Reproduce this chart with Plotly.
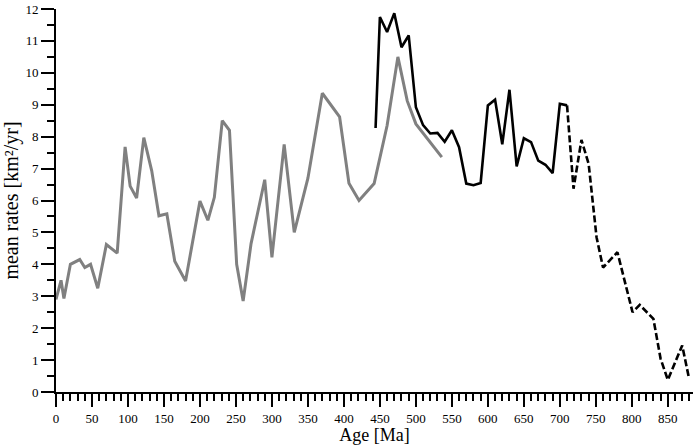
import plotly.graph_objects as go

# Gray series
gray_age = [0, 7, 11, 20, 33, 40, 48, 58, 70, 85, 96, 103, 112, 122, 133, 143, 154, 165, 180,
            200, 211, 220, 231, 241, 251, 260, 271, 290, 300, 317, 331, 350, 370, 394, 407,
            421, 442, 460, 475, 488, 500, 536]
gray_val = [2.9, 3.5, 2.93, 4.0, 4.15, 3.9, 4.0, 3.25, 4.62, 4.35, 7.68, 6.45, 6.08, 7.97, 6.93,
            5.52, 5.58, 4.1, 3.48, 5.98, 5.38, 6.1, 8.5, 8.2, 4.0, 2.85, 4.65, 6.65, 4.22, 7.76,
            5.0, 6.7, 9.36, 8.62, 6.54, 6.0, 6.53, 8.35, 10.5, 9.12, 8.4, 7.36]

# Black solid series
black_age = [444, 450, 460, 470, 480, 490, 500, 505, 510, 520, 530, 540, 550, 560, 570, 580,
             590, 600, 610, 620, 630, 640, 650, 660, 670, 680, 690, 700, 710]
black_val = [8.27, 11.75, 11.28, 11.87, 10.8, 11.17, 8.92, 8.62, 8.36, 8.1, 8.12, 7.84, 8.2,
             7.67, 6.53, 6.48, 6.55, 8.98, 9.16, 7.76, 9.47, 7.07, 7.95, 7.83, 7.25, 7.12,
             6.86, 9.03, 8.98]

# Black dashed series
dash_age = [710, 719, 730, 740, 751, 760, 780, 801, 811, 830, 840, 850, 870, 879]
dash_val = [8.98, 6.37, 7.9, 7.15, 4.85, 3.9, 4.38, 2.5, 2.73, 2.29, 1.04, 0.38, 1.46, 0.48]

fig = go.Figure()
fig.add_trace(go.Scatter(x=gray_age, y=gray_val, mode="lines",
                         line=dict(color="#808080", width=3), showlegend=False))
fig.add_trace(go.Scatter(x=black_age, y=black_val, mode="lines",
                         line=dict(color="#000000", width=2.6), showlegend=False))
fig.add_trace(go.Scatter(x=dash_age, y=dash_val, mode="lines",
                         line=dict(color="#000000", width=2.6, dash="7px,3px"), showlegend=False))

font = "Liberation Serif, Times New Roman, serif"
fig.update_layout(
    width=699, height=445,
    margin=dict(l=56, r=6, t=9, b=53),
    paper_bgcolor="white", plot_bgcolor="white",
    font=dict(family=font, size=13, color="black"),
    xaxis=dict(range=[0, 885], dtick=50, tick0=0, ticks="outside", ticklen=13, tickwidth=1.6,
               tickcolor="black", showline=True, linecolor="black", linewidth=2,
               showgrid=False, zeroline=False, automargin=False,
               minor=dict(dtick=10, ticks="outside", ticklen=7, tickwidth=1.6, tickcolor="black", showgrid=False),
               title=dict(text="Age [Ma]", font=dict(size=18), standoff=4),
               tickfont=dict(size=13)),
    yaxis=dict(range=[0, 12], dtick=1, tick0=0, ticks="outside", ticklen=13, tickwidth=1.6,
               tickcolor="black", showline=True, linecolor="black", linewidth=2,
               showgrid=False, zeroline=False, automargin=False,
               minor=dict(dtick=0.5, ticks="outside", ticklen=7, tickwidth=1.6, tickcolor="black", showgrid=False),
               title=dict(text="mean rates [km²/yr]", font=dict(size=20), standoff=6),
               tickfont=dict(size=13)),
)
fig.write_html("out.html", config={"displayModeBar": False},
               post_script="document.body.style.margin='0px';document.body.style.overflow='hidden';")
